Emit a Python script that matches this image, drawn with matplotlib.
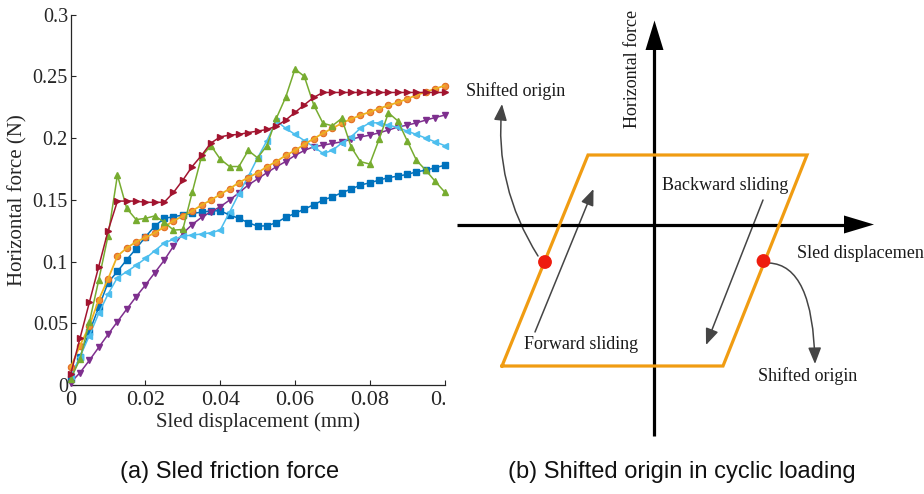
import numpy as np
import matplotlib
matplotlib.use("Agg")
import matplotlib.pyplot as plt
from matplotlib.patches import Polygon, FancyArrowPatch, Circle
from matplotlib.path import Path
from matplotlib.transforms import Bbox, TransformedBbox

# ---------------- data (panel a) ----------------
disp = [0.0, 0.0025, 0.005, 0.0075, 0.01, 0.0125, 0.015, 0.0175, 0.02, 0.0225,
        0.025, 0.0275, 0.03, 0.0325, 0.035, 0.0375, 0.04, 0.0425, 0.045, 0.0475,
        0.05, 0.0525, 0.055, 0.0575, 0.06, 0.0625, 0.065, 0.0675, 0.07, 0.0725,
        0.075, 0.0775, 0.08, 0.0825, 0.085, 0.0875, 0.09, 0.0925, 0.095, 0.0975, 0.1]

blue = [0.005, 0.023, 0.043, 0.063, 0.083, 0.092, 0.1015, 0.1105, 0.120, 0.1287,
        0.135, 0.1363, 0.1377, 0.139, 0.140, 0.141, 0.1412, 0.1377, 0.135, 0.1315,
        0.1287, 0.129, 0.1315, 0.1358, 0.139, 0.1425, 0.146, 0.1498, 0.1525, 0.1557,
        0.1587, 0.162, 0.1638, 0.166, 0.168, 0.1692, 0.1706, 0.1727, 0.174, 0.176, 0.178]

orange = [0.0143, 0.032, 0.048, 0.069, 0.086, 0.1045, 0.111, 0.116, 0.1195, 0.1233,
          0.128, 0.133, 0.1368, 0.141, 0.1457, 0.1498, 0.1544, 0.159, 0.164, 0.168,
          0.172, 0.1768, 0.181, 0.186, 0.190, 0.195, 0.1995, 0.204, 0.208, 0.212,
          0.2155, 0.2185, 0.2212, 0.224, 0.2265, 0.229, 0.2318, 0.2348, 0.2375, 0.240, 0.2425]

purple = [0.002, 0.010, 0.020, 0.0305, 0.041, 0.0513, 0.0615, 0.0715, 0.081, 0.091,
          0.101, 0.1125, 0.1228, 0.130, 0.1358, 0.1403, 0.1444, 0.1498, 0.1557, 0.162,
          0.167, 0.172, 0.1768, 0.181, 0.186, 0.190, 0.193, 0.1943, 0.1957, 0.197,
          0.199, 0.201, 0.2024, 0.2043, 0.2065, 0.209, 0.2105, 0.2124, 0.2146, 0.2167, 0.2186]

green = [0.005, 0.021, 0.051, 0.085, 0.121, 0.170, 0.143, 0.134, 0.135, 0.137,
         0.132, 0.1255, 0.126, 0.156, 0.185, 0.194, 0.183, 0.177, 0.177, 0.190,
         0.184, 0.194, 0.216, 0.233, 0.256, 0.250, 0.227, 0.212, 0.210, 0.216,
         0.193, 0.181, 0.179, 0.199, 0.2205, 0.214, 0.198, 0.182, 0.174, 0.165, 0.1565]

lightblue = [0.007, 0.023, 0.040, 0.058, 0.0737, 0.087, 0.0918, 0.097, 0.1025, 0.1088,
             0.115, 0.118, 0.1206, 0.1215, 0.1223, 0.1233, 0.1255, 0.140, 0.155, 0.169,
             0.184, 0.198, 0.214, 0.208, 0.203, 0.198, 0.193, 0.1876, 0.190, 0.196,
             0.201, 0.208, 0.2124, 0.2124, 0.2105, 0.2087, 0.2057, 0.203, 0.200, 0.197, 0.194]

darkred = [0.009, 0.038, 0.067, 0.096, 0.125, 0.149, 0.149, 0.149, 0.148, 0.148,
           0.148, 0.156, 0.166, 0.177, 0.186, 0.196, 0.201, 0.2025, 0.203, 0.2045,
           0.2057, 0.207, 0.2097, 0.2146, 0.2208, 0.227, 0.233, 0.237, 0.237, 0.237,
           0.237, 0.237, 0.237, 0.237, 0.237, 0.237, 0.237, 0.237, 0.237, 0.237, 0.237]

xticks = [0, 0.02, 0.04, 0.06, 0.08, 0.1]
xticklabels = ["0", "0.02", "0.04", "0.06", "0.08", "0.1"]
yticks = [0, 0.05, 0.1, 0.15, 0.2, 0.25, 0.3]
yticklabels = ["0", "0.05", "0.1", "0.15", "0.2", "0.25", "0.3"]

# ---------------- schematic geometry (panel b, pixel space) ----------------
loop_x = [502, 588, 807, 723, 502]
loop_y = [366, 155, 155, 366, 366]
origin_dots = [(545, 262), (763.5, 261)]

W, H = 924, 494
fig = plt.figure(figsize=(W / 100, H / 100), dpi=100)

SERIF = ["Liberation Serif", "DejaVu Serif"]
SANS = ["Liberation Sans", "DejaVu Sans"]

# ---------------- panel (a) ----------------
L, R, B, T = 70.7, 444.5, 385.0, 14.7
ax = fig.add_axes([L / W, 1 - B / H, (R - L) / W, (B - T) / H])

lw = 1.1
ax.plot(disp, blue, color="#0072BD", marker="s", ms=3.9, lw=lw, clip_on=False, zorder=3)
ax.plot(disp, purple, color="#7E2F8E", marker="v", ms=4.4, lw=lw, clip_on=False, zorder=3)
ax.plot(disp, lightblue, color="#4DBEEE", marker="<", ms=4.5, lw=lw, clip_on=False, zorder=3)
ax.plot(disp, orange, color="#D95319", marker="o", ms=4.6, lw=0, mfc="#F0903A",
        mec="#E36F22", mew=0.8, clip_on=False, zorder=4)
ax.plot(disp, orange, color="#EDB120", lw=1.3, clip_on=False, zorder=4)
ax.plot(disp, green, color="#77AC30", marker="^", ms=4.5, lw=lw, clip_on=False, zorder=5)
ax.plot(disp, darkred, color="#A2142F", marker=">", ms=4.5, lw=lw, clip_on=False, zorder=5)

ax.set_xlim(0, 0.1)
ax.set_ylim(0, 0.3)
ax.set_xticks(xticks)
ax.set_xticklabels(xticklabels, family=SERIF, fontsize=16)
ax.set_yticks(yticks)
ax.set_yticklabels(yticklabels, family=SERIF, fontsize=14.5)
ax.tick_params(direction="in", length=3.5, width=0.8, colors="#262626")
ax.tick_params(axis="x", pad=4)
ax.tick_params(axis="y", pad=2)
for s in ["top", "right"]:
    ax.spines[s].set_visible(False)
for s in ["left", "bottom"]:
    ax.spines[s].set_linewidth(0.9)
    ax.spines[s].set_color("#262626")
ax.set_xlabel("Sled displacement (mm)", family=SERIF, fontsize=15, color="#262626", labelpad=2)
ax.set_ylabel("Horizontal force (N)", family=SERIF, fontsize=15, color="#262626", labelpad=4)

clipbb = TransformedBbox(Bbox([[0, 0], [R / W, 1]]), fig.transFigure)
for tk in ax.xaxis.get_major_ticks():
    tk.label1.set_clip_on(True)
    tk.label1.set_clip_box(clipbb)

# ---------------- panel (b) ----------------
axb = fig.add_axes([450 / W, 0, (W - 450) / W, 1])
axb.set_xlim(450, W)
axb.set_ylim(H, 0)
axb.axis("off")

# coordinate axes
axb.plot([457, 850], [224.5, 224.5], color="black", lw=2.3, solid_capstyle="butt")
axb.add_patch(Polygon([[874, 224.5], [844, 215.5], [844, 233.5]], closed=True,
                      color="black", lw=0))
axb.plot([654.5, 654.5], [436, 45], color="black", lw=2.3, solid_capstyle="butt")
axb.add_patch(Polygon([[654.5, 20.5], [645.5, 50], [663.5, 50]], closed=True,
                      color="black", lw=0))

# hysteresis loop
axb.plot(loop_x, loop_y, color="#F09C12", lw=2.3, solid_joinstyle="miter")

# red dots
for (cx, cy) in origin_dots:
    axb.add_patch(Circle((cx, cy), 6.2, color="#EE1C0E", zorder=6))

gray = "#454545"
astyle = "-|>,head_length=0.55,head_width=0.22"
# straight arrows
axb.add_patch(FancyArrowPatch((535, 332), (593.5, 189), arrowstyle=astyle,
                              mutation_scale=18, color=gray, lw=1.1, shrinkA=0, shrinkB=0))
axb.add_patch(FancyArrowPatch((763, 200), (706, 345), arrowstyle=astyle,
                              mutation_scale=18, color=gray, lw=1.1, shrinkA=0, shrinkB=0))
# curved arrows
p_left = Path([(538, 256), (494, 186), (502, 104)], [Path.MOVETO, Path.CURVE3, Path.CURVE3])
axb.add_patch(FancyArrowPatch(path=p_left, arrowstyle=astyle, mutation_scale=18,
                              color=gray, lw=1.1))
p_right = Path([(769, 263), (813, 265), (815, 364)], [Path.MOVETO, Path.CURVE3, Path.CURVE3])
axb.add_patch(FancyArrowPatch(path=p_right, arrowstyle=astyle, mutation_scale=18,
                              color=gray, lw=1.1))

tkw = dict(family=SERIF, fontsize=13, color="#1a1a1a")
axb.text(633, 69, "Horizontal force", rotation=90, ha="center", va="center", **tkw)
axb.text(466, 91, "Shifted origin", ha="left", va="center", **tkw)
axb.text(662, 185, "Backward sliding", ha="left", va="center", **tkw)
axb.text(524, 344, "Forward sliding", ha="left", va="center", **tkw)
axb.text(758, 376, "Shifted origin", ha="left", va="center", **tkw)
axb.text(797, 253, "Sled displacement", ha="left", va="center", **tkw)

# captions
fig.text(230 / W, 1 - 472 / H, "(a) Sled friction force", family=SANS, fontsize=17,
         ha="center", va="center", color="#111111")
fig.text(682 / W, 1 - 472 / H, "(b) Shifted origin in cyclic loading", family=SANS,
         fontsize=17, ha="center", va="center", color="#111111")

fig.savefig("out.png", dpi=100)
